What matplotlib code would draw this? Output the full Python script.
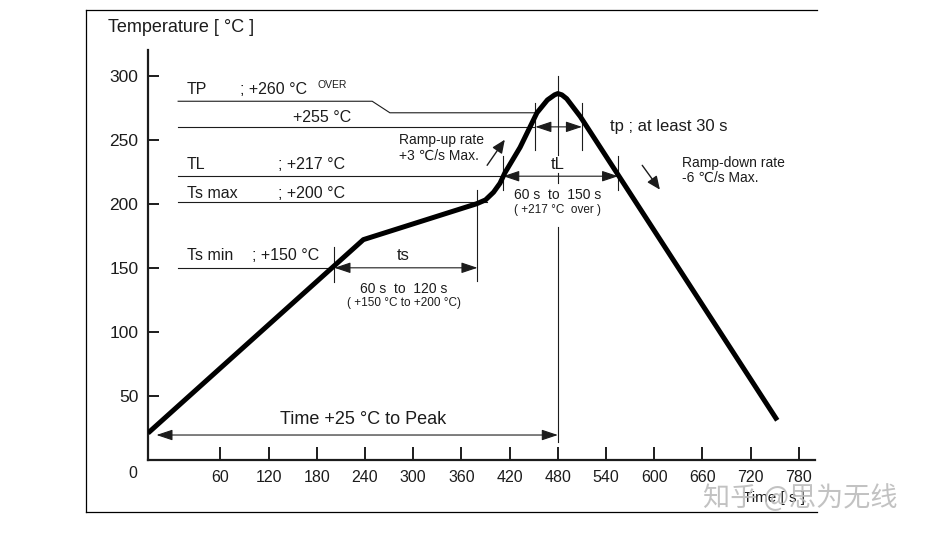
import numpy as np
import matplotlib.pyplot as plt
from matplotlib.lines import Line2D

# reflow profile as drawn (schematic)
profile_t = [0, 238, 379, 390, 400, 408, 414, 433, 454, 467, 476, 480, 485, 491, 508, 753]
profile_T = [21, 172, 200, 203, 209, 216, 224, 244, 271, 281, 285, 286, 285, 282, 268, 31]

x_ticks = [60, 120, 180, 240, 300, 360, 420, 480, 540, 600, 660, 720, 780]
y_ticks = [50, 100, 150, 200, 250, 300]

# guide levels where they sit in the drawing (not to scale)
tp_level = 280
over_level = 271
t255_level = 260
tl_level = 222
tsmax_level = 201
tsmin_level = 150

ts_span = (202, 380)
tl_span = (412, 555)
tp_span = (452, 510)
peak_time = 480
start_time = 7

INK = "#1c1c1c"
plt.rcParams["font.family"] = ["Liberation Sans", "DejaVu Sans"]


# the first 60 s are drawn wider than the rest
def fwd(t):
    t = np.asarray(t, dtype=float)
    return np.where(t < 60, t * 1.5, t + 30)


def inv(s):
    s = np.asarray(s, dtype=float)
    return np.where(s < 90, s / 1.5, s - 30)


fig = plt.figure(figsize=(9.25, 5.35), dpi=100)
ax = fig.add_axes([148 / 925, 75 / 535, 667 / 925, 410 / 535])
ax.set_xscale("function", functions=(fwd, inv))
ax.set_xlim(0, 800)
ax.set_ylim(0, 320)

for s in ["top", "right"]:
    ax.spines[s].set_visible(False)
for s in ["left", "bottom"]:
    ax.spines[s].set_linewidth(1.6)
    ax.spines[s].set_color(INK)

ax.set_xticks(x_ticks)
ax.set_xticklabels([str(v) for v in x_ticks], fontsize=11.5, color=INK)
ax.set_yticks(y_ticks)
ax.set_yticklabels([str(v) for v in y_ticks], fontsize=12.5, color=INK)
ax.xaxis.set_minor_locator(plt.NullLocator())
ax.tick_params(axis="x", direction="in", length=9.5, width=1.4, pad=7, color=INK)
ax.tick_params(axis="y", direction="in", length=8, width=1.4, pad=7, color=INK)

# profile curve
ax.plot(profile_t, profile_T, color="black", lw=3.6, solid_joinstyle="round",
        solid_capstyle="butt", zorder=5)

thin = dict(color=INK, lw=0.8, zorder=3)
left_t = 25

# guide lines
ax.plot([left_t, 249, 271, tp_span[0]], [tp_level, tp_level, over_level, over_level], **thin)
ax.plot([left_t, tp_span[0]], [t255_level, t255_level], **thin)
ax.plot([left_t, tl_span[0]], [tl_level, tl_level], **thin)
ax.plot([left_t, 392], [tsmax_level, tsmax_level], **thin)
ax.plot([left_t, ts_span[0]], [tsmin_level, tsmin_level], **thin)

# vertical markers
ax.plot([ts_span[0]] * 2, [139, 166], **thin)
ax.plot([ts_span[1]] * 2, [140, 211], **thin)
ax.plot([tl_span[0]] * 2, [211, 237], **thin)
ax.plot([tl_span[1]] * 2, [211, 237], **thin)
ax.plot([tp_span[0]] * 2, [242, 279], **thin)
ax.plot([tp_span[1]] * 2, [242, 279], **thin)
for lo, hi in [(238, 300), (216, 224), (14, 182)]:
    ax.plot([peak_time] * 2, [lo, hi], **thin)


def span_arrow(a, b, y):
    ax.annotate("", xy=(b, y), xytext=(a, y),
                arrowprops=dict(arrowstyle="<|-|>,head_length=0.9,head_width=0.3",
                                mutation_scale=11, lw=0.8, color=INK,
                                shrinkA=0, shrinkB=0), zorder=4)


span_arrow(ts_span[0], ts_span[1], tsmin_level)
span_arrow(tl_span[0], tl_span[1], tl_level - 0.5)
span_arrow(tp_span[0], tp_span[1], t255_level)
span_arrow(start_time, peak_time, 19.5)

# ramp arrows
ramp = dict(arrowstyle="-|>,head_length=0.8,head_width=0.35", mutation_scale=10,
            lw=1.0, color=INK, shrinkA=0, shrinkB=0)
ax.annotate("", xy=(414, 250), xytext=(392, 230), arrowprops=ramp)
ax.annotate("", xy=(607, 211), xytext=(585, 230), arrowprops=ramp)

lab = dict(fontsize=11.5, color=INK, va="center", ha="left")
ax.text(32, 289, "TP", **lab)
ax.text(85, 289, "; +260 °C", **lab)
ax.text(181, 292.5, "OVER", fontsize=7.5, color=INK, va="center", ha="left")
ax.text(150, 267.5, "+255 °C", **lab)
ax.text(32, 231, "TL", **lab)
ax.text(132, 231, "; +217 °C", **lab)
ax.text(32, 208, "Ts max", **lab)
ax.text(132, 208, "; +200 °C", **lab)
ax.text(32, 159.5, "Ts min", **lab)
ax.text(100, 159.5, "; +150 °C", **lab)

small = dict(fontsize=10, color=INK, va="center", ha="left")
ax.text(282, 250, "Ramp-up rate", **small)
ax.text(282, 237.5, "+3 ℃/s Max.", **small)
ax.text(635, 232, "Ramp-down rate", **small)
ax.text(635, 220.3, "-6 ℃/s Max.", **small)
ax.text(545, 260, "tp ; at least 30 s", fontsize=12, color=INK, va="center", ha="left")

ax.text(peak_time, 230.5, "tL", fontsize=12, color=INK, ha="center", va="center")
ax.text(peak_time, 207, "60 s  to  150 s", fontsize=10, color=INK, ha="center", va="center")
ax.text(peak_time, 195.3, "( +217 °C  over )", fontsize=8.5, color=INK, ha="center", va="center")

ax.text(288, 160, "ts", fontsize=12, color=INK, ha="center", va="center")
ax.text(288, 133.6, "60 s  to  120 s", fontsize=10, color=INK, ha="center", va="center")
ax.text(288, 122.7, "( +150 °C to +200 °C)", fontsize=8.5, color=INK, ha="center", va="center")

ax.text(238, 31.3, "Time +25 °C to Peak", fontsize=13, color=INK, ha="center", va="center")

# texts placed on the figure
fig.text(108 / 925, 1 - 27 / 535, "Temperature [ °C ]", fontsize=13, color=INK,
         ha="left", va="center")
fig.text(133 / 925, 1 - 474 / 535, "0", fontsize=11.5, color=INK, ha="center", va="center")
fig.text(743 / 925, 1 - 498 / 535, "Time [ s ]", fontsize=11, color=INK,
         ha="left", va="center")
fig.text(703 / 925, 1 - 498 / 535, "知乎 @思为无线", fontsize=19.5, color="#bcbcbc",
         alpha=0.9, ha="left", va="center",
         family=["Noto Sans CJK SC", "DejaVu Sans"])

# outer frame (right side is cut off in the source)
for xs, ys in [([86, 86], [10, 512]), ([86, 817], [10, 10]), ([86, 817], [512, 512])]:
    fig.add_artist(Line2D([x / 925 for x in xs], [1 - y / 535 for y in ys],
                          transform=fig.transFigure, color="black", lw=0.9))

fig.savefig("out.png", dpi=100)
